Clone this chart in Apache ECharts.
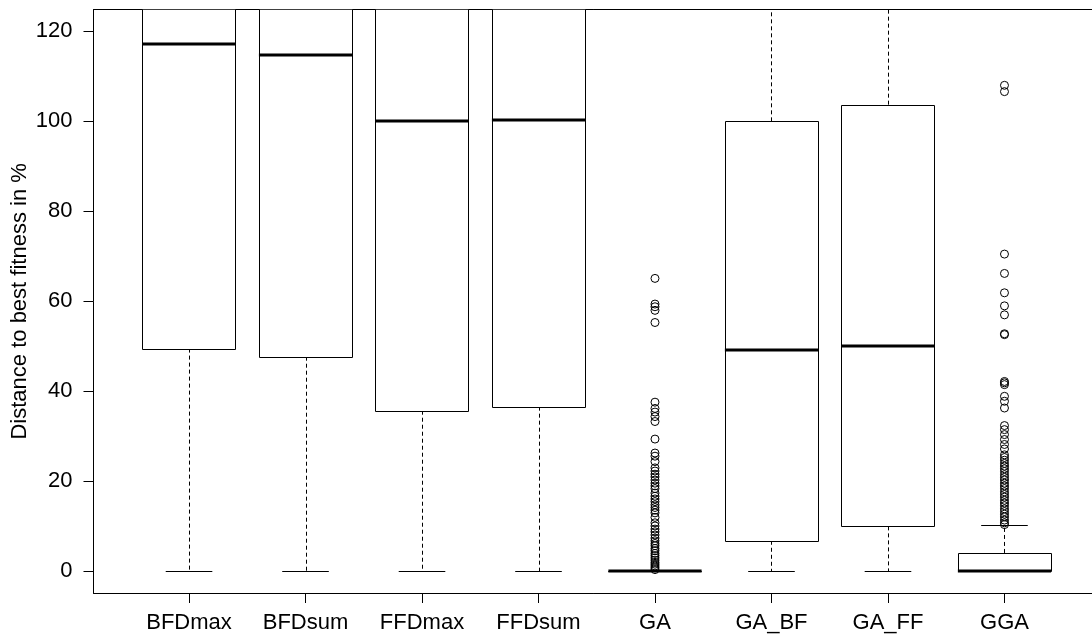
<!DOCTYPE html>
<html>
<head>
<meta charset="utf-8">
<script src="https://cdn.jsdelivr.net/npm/echarts@6/dist/echarts.min.js"></script>
<style>
  html, body { margin: 0; padding: 0; background: #fff; }
  #chart { width: 1092px; height: 637px; }
</style>
</head>
<body>
<div id="chart"></div>
<script>
// Algorithms compared
const categories = ['BFDmax', 'BFDsum', 'FFDmax', 'FFDsum', 'GA', 'GA_BF', 'GA_FF', 'GGA'];

// Box summaries per algorithm (distance to best fitness, %)
const whiskerLow  = [0, 0, 0, 0, 0, 0, 0, 0];
const q1          = [49.5, 47.7, 35.7, 36.6, 0, 6.8, 10.0, 0];
const median      = [117.1, 114.8, 100.1, 100.3, 0, 49.2, 50.1, 0];
const q3          = [150, 150, 150, 150, 0, 100.0, 103.7, 4.1];
const whiskerHigh = [200, 200, 200, 200, 0, 200, 200, 10.2];

// Outlying runs
const outliersGA = [65.1, 59.4, 58.8, 58.0, 55.3, 37.6, 36.2, 35.4, 34.4, 33.3, 29.4,
  26.3, 25.6, 24.4, 23.0, 22.3, 21.6, 21.0, 20.3, 19.6, 19.0, 18.4, 17.4, 16.7, 16.1,
  15.5, 14.8, 14.2, 13.6, 13.0, 12.0, 10.8, 10.1, 9.4, 8.8, 8.1, 7.4, 6.8, 6.2, 5.7,
  5.1, 4.6, 4.0, 3.5, 3.0, 2.5, 2.0, 1.6, 1.2, 0.8, 0.4];
const outliersGGA = [108.0, 106.6, 70.5, 66.2, 61.9, 59.0, 57.0, 52.8, 52.6, 42.2, 41.9,
  41.5, 38.9, 37.8, 36.3, 32.4, 31.5, 30.4, 29.3, 28.2, 27.2, 25.9, 25.3, 24.7, 24.0,
  23.4, 22.8, 22.2, 21.5, 20.9, 20.3, 19.6, 19.0, 18.4, 17.7, 17.1, 16.5, 15.8, 15.2,
  14.6, 13.9, 13.3, 12.7, 12.1, 11.4, 10.8, 10.4];

const yTicks = [0, 20, 40, 60, 80, 100, 120];
const xTicks = [1, 2, 3, 4, 5, 6, 7, 8];

const FONT = '"Liberation Sans", Arial, Helvetica, sans-serif';
const X_MIN = 0.18, X_MAX = 8.82;
const Y_MIN = -4.8, Y_MAX = 124.8;

const boxData = categories.map((c, i) =>
  [i + 1, whiskerLow[i], q1[i], median[i], q3[i], whiskerHigh[i]]);

const outlierData = []
  .concat(outliersGA.map(v => [categories.indexOf('GA') + 1, v]))
  .concat(outliersGGA.map(v => [categories.indexOf('GGA') + 1, v]));

const crisp = v => Math.round(v) + 0.5;

function renderBox(params, api) {
  const x = api.value(0);
  const cx = api.coord([x, 0])[0];
  const yLo = api.coord([x, api.value(1)])[1];
  const yQ1 = api.coord([x, api.value(2)])[1];
  const yMed = api.coord([x, api.value(3)])[1];
  const yQ3 = api.coord([x, api.value(4)])[1];
  const yHi = api.coord([x, api.value(5)])[1];
  const boxW = api.size([0.8, 0])[0];
  const capW = api.size([0.4, 0])[0];
  const thin = { stroke: '#000', lineWidth: 1 };
  const dashed = { stroke: '#000', lineWidth: 1, lineDash: [4, 3] };
  const xc = crisp(cx);
  return {
    type: 'group',
    children: [
      { type: 'line', shape: { x1: xc, y1: yQ1, x2: xc, y2: yLo }, style: dashed },
      { type: 'line', shape: { x1: xc, y1: yQ3, x2: xc, y2: yHi }, style: dashed },
      { type: 'line', shape: { x1: cx - capW / 2, y1: crisp(yLo), x2: cx + capW / 2, y2: crisp(yLo) }, style: thin },
      { type: 'line', shape: { x1: cx - capW / 2, y1: crisp(yHi), x2: cx + capW / 2, y2: crisp(yHi) }, style: thin },
      { type: 'rect',
        shape: { x: crisp(cx - boxW / 2), y: crisp(yQ3), width: Math.round(boxW), height: Math.round(yQ1) - Math.round(yQ3) },
        style: { fill: '#fff', stroke: '#000', lineWidth: 1 } },
      { type: 'line', shape: { x1: cx - boxW / 2, y1: Math.round(yMed), x2: cx + boxW / 2, y2: Math.round(yMed) },
        style: { stroke: '#000', lineWidth: 3 } }
    ]
  };
}

const chart = echarts.init(document.getElementById('chart'), null, { renderer: 'canvas' });

const frameLine = { show: true, onZero: false, lineStyle: { color: '#000', width: 1 } };

chart.setOption({
  animation: false,
  backgroundColor: '#fff',
  grid: {
    left: 93.5, right: -8, top: 9.7, bottom: 44,
    outerBoundsMode: 'none',
    containLabel: false,
    show: false
  },
  xAxis: [
    {
      // bottom edge of the frame with category ticks; anchored on the
      // helper y axis whose zero sits on the bottom of the plot area
      type: 'value',
      min: X_MIN, max: X_MAX,
      position: 'bottom',
      axisLine: { show: true, onZero: true, onZeroAxisIndex: 1, lineStyle: { color: '#000', width: 1 } },
      splitLine: { show: false },
      axisTick: { show: true, inside: false, length: 10, customValues: xTicks, lineStyle: { color: '#000', width: 1 } },
      axisLabel: {
        customValues: xTicks,
        formatter: v => categories[Math.round(v) - 1] || '',
        margin: 19, color: '#000', fontFamily: FONT, fontSize: 22
      }
    },
    {
      // top edge of the plot frame
      type: 'value',
      min: X_MIN, max: X_MAX,
      position: 'top',
      axisLine: frameLine,
      axisTick: { show: false },
      axisLabel: { show: false },
      splitLine: { show: false }
    }
  ],
  yAxis: [
    {
      type: 'value',
      min: Y_MIN, max: Y_MAX,
      name: 'Distance to best fitness in %',
      nameLocation: 'middle',
      nameGap: 63,
      nameRotate: 90,
      nameMoveOverlap: false,
      nameTextStyle: { color: '#000', fontFamily: FONT, fontSize: 22 },
      axisLine: frameLine,
      splitLine: { show: false },
      axisTick: { show: true, length: 10, customValues: yTicks, lineStyle: { color: '#000' } },
      axisLabel: {
        customValues: yTicks,
        margin: 21, color: '#000', fontFamily: FONT, fontSize: 22
      }
    },
    {
      // helper axis: its zero is the bottom of the plot area
      type: 'value',
      min: 0, max: 1,
      position: 'right',
      axisLine: { show: false },
      axisTick: { show: false },
      axisLabel: { show: false },
      splitLine: { show: false }
    }
  ],
  series: [
    {
      type: 'custom',
      renderItem: renderBox,
      data: boxData,
      encode: { x: 0, y: [1, 2, 3, 4, 5] },
      clip: true,
      z: 2
    },
    {
      type: 'scatter',
      data: outlierData,
      symbol: 'circle',
      symbolSize: 8,
      itemStyle: { color: 'rgba(0,0,0,0)', borderColor: '#000', borderWidth: 1, opacity: 1 },
      clip: true,
      z: 3
    }
  ]
});
</script>
</body>
</html>
